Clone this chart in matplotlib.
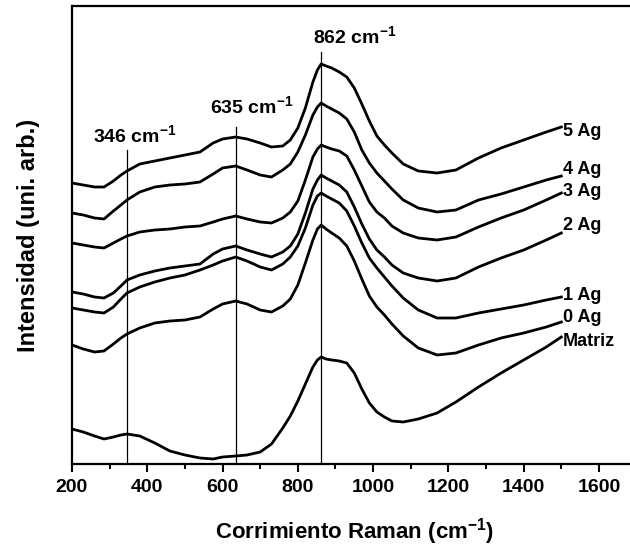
import matplotlib
matplotlib.use("Agg")
import matplotlib.pyplot as plt
from matplotlib.ticker import MultipleLocator

plt.rcParams['font.family'] = ['Liberation Sans', 'DejaVu Sans']
plt.rcParams['font.weight'] = 'bold'
plt.rcParams['mathtext.fontset'] = 'custom'
plt.rcParams['mathtext.rm'] = 'Liberation Sans:bold'
plt.rcParams['mathtext.it'] = 'Liberation Sans:bold'
plt.rcParams['mathtext.bf'] = 'Liberation Sans:bold'
plt.rcParams['mathtext.default'] = 'bf'

# Raman shift (cm^-1)
wavenumber = [200, 230, 260, 285, 310, 330, 346, 380, 420, 460, 500, 540, 575, 600, 635,
              665, 700, 730, 760, 780, 800, 820, 840, 852, 862, 875, 890, 910, 930, 950,
              970, 990, 1010, 1030, 1050, 1080, 1120, 1170, 1220, 1280, 1340, 1400, 1460, 1500]

# Intensities (arbitrary units, stacked)
ag5 = [281, 279, 277, 277, 283, 289, 293, 300, 303, 306, 309, 312, 321, 325, 327,
       325, 321, 317, 318, 324, 336, 356, 382, 394, 400, 398, 396, 392, 387, 376,
       360, 343, 328, 319, 311, 300, 293, 291, 294, 306, 316, 324, 332, 337]
ag4 = [251, 249, 246, 245, 253, 259, 264, 272, 277, 279, 280, 282, 290, 296, 298,
       294, 289, 287, 294, 300, 312, 329, 349, 357, 361, 358, 355, 351, 345, 332,
       314, 301, 291, 283, 275, 264, 256, 252, 254, 264, 270, 277, 284, 288]
ag3 = [221, 219, 217, 216, 221, 225, 228, 232, 234, 235, 237, 238, 242, 245, 248,
       245, 242, 241, 246, 252, 263, 284, 307, 315, 319, 317, 315, 313, 308, 294,
       278, 262, 252, 246, 238, 231, 226, 224, 227, 237, 246, 254, 264, 271]
ag2 = [172, 170, 167, 166, 171, 178, 184, 189, 193, 196, 198, 200, 210, 215, 218,
       214, 210, 207, 212, 218, 230, 251, 275, 284, 289, 286, 283, 279, 272, 257,
       240, 225, 214, 207, 199, 191, 186, 183, 186, 197, 206, 214, 224, 231]
ag1 = [156, 154, 152, 151, 157, 165, 171, 177, 182, 186, 189, 194, 199, 203, 207,
       203, 197, 194, 200, 207, 218, 236, 259, 268, 271, 268, 265, 261, 253, 238,
       221, 206, 196, 187, 178, 166, 154, 146, 146, 151, 155, 159, 164, 167]
ag0 = [119, 115, 112, 113, 120, 126, 130, 136, 141, 143, 144, 147, 155, 160, 163,
       160, 154, 152, 158, 165, 179, 201, 224, 235, 239, 235, 231, 226, 218, 203,
       185, 168, 157, 149, 140, 128, 116, 109, 111, 119, 126, 131, 137, 142]
matriz = [35, 32, 28, 25, 27, 29, 30, 28, 21, 13, 9, 6, 5, 7, 8,
          9, 12, 20, 36, 48, 63, 80, 97, 104, 107, 105, 104, 103, 101, 91,
          75, 61, 52, 47, 43, 42, 45, 51, 62, 77, 91, 104, 117, 127]

series = [ag5, ag4, ag3, ag2, ag1, ag0, matriz]
series_labels = ['5 Ag', '4 Ag', '3 Ag', '2 Ag', '1 Ag', '0 Ag', 'Matriz']
label_y = [333, 295, 273, 238, 168, 146, 123]

peak_pos = [346, 635, 862]
peak_top = [314, 337, 412]
peak_text = ['346 cm$^{-1}$', '635 cm$^{-1}$', '862 cm$^{-1}$']
peak_text_x = [255, 566, 839]
peak_text_y = [322, 351, 421]

fig = plt.figure(figsize=(6.3, 5.48), dpi=100)
ax = fig.add_axes([72/630, 84/548, 1500*0.3764/630, 458/548])

for ys in series:
    ax.plot(wavenumber, ys, color='black', lw=2.0, solid_joinstyle='round')

for xp, top in zip(peak_pos, peak_top):
    ax.plot([xp, xp], [0, top], color='black', lw=0.9)

for txt, tx, ty in zip(peak_text, peak_text_x, peak_text_y):
    ax.text(tx, ty, txt, fontsize=14, fontweight='bold', ha='left', va='baseline')

for lab, ly in zip(series_labels, label_y):
    ax.text(1505, ly, lab, fontsize=13, fontweight='bold', ha='left', va='center')

ax.set_xlim(200, 1700)
ax.set_ylim(0, 458)
ax.xaxis.set_major_locator(MultipleLocator(200))
ax.xaxis.set_minor_locator(MultipleLocator(100))
ax.set_yticks([])
ax.tick_params(axis='x', which='major', direction='out', length=6, width=1.5,
               labelsize=14, pad=5)
ax.tick_params(axis='x', which='minor', direction='out', length=3.5, width=1.5)
for lab in ax.get_xticklabels():
    lab.set_fontweight('bold')
for sp in ax.spines.values():
    sp.set_linewidth(1.6)

ax.set_xlabel('Corrimiento Raman (cm$^{-1}$)', fontsize=16, fontweight='bold', labelpad=14)
ax.set_ylabel('Intensidad (uni. arb.)', fontsize=17, fontweight='bold', labelpad=23)

fig.savefig('out.png', dpi=100)
